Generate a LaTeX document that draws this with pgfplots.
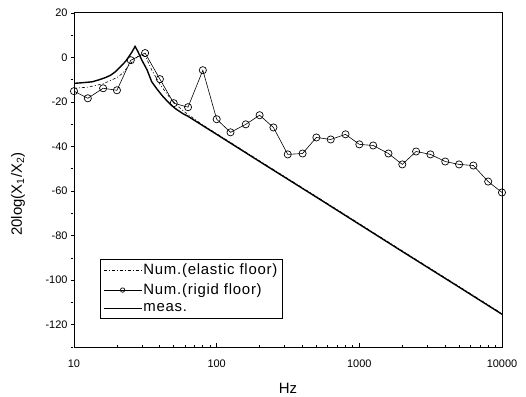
\documentclass[border=0pt]{standalone}
\usepackage{fontspec}
\setmainfont{Liberation Sans}
\newfontfamily\legfont[LetterSpace=5]{Liberation Sans}
\usepackage{pgfplots}
\pgfplotsset{compat=1.18}
\usetikzlibrary{calc}
\begin{document}
\begin{tikzpicture}
\begin{axis}[
  scale only axis, width=428bp, height=334bp,
  xmode=log, xmin=10, xmax=10000, ymin=-130, ymax=20,
  ytick={-120,-100,...,20}, minor ytick={-130,-110,...,10},
  xtick={10,100,1000,10000}, xticklabels={10,100,1000,10000},
  tick align=inside, xtick pos=bottom, ytick pos=left,
  major tick length=4bp, minor tick length=2.5bp,
  y tick style={xshift=-3.5bp},
  tick style={black, line width=0.8bp},
  tick label style={font=\fontsize{11}{13}\selectfont},
  yticklabel style={xshift=-3bp},
  xticklabel style={yshift=-9bp},
  /pgf/number format/assume math mode=true,
  xlabel={Hz}, ylabel={20log(X\textsubscript{1}/X\textsubscript{2})},
  label style={font=\fontsize{15}{17}\selectfont},
  xlabel style={at={(rel axis cs:0.5,0)}, anchor=center, yshift=-41bp},
  ylabel style={at={(rel axis cs:0,0.5)}, anchor=center, yshift=56bp, xshift=-14bp},
  axis line style={line width=1bp},
  legend style={at={(0.061,0.087)}, anchor=south west, draw=black,
    font=\legfont\fontsize{15}{17}\selectfont, row sep=4.5bp, inner sep=3bp,
    nodes={inner sep=1.5bp}},
  legend cell align=left,
  legend image code/.code={\draw[mark repeat=2,mark phase=2,#1] plot coordinates {(0bp,0bp) (19bp,0bp) (38bp,0bp)};},
]
\coordinate (SW) at (rel axis cs:0,0);
\coordinate (NE) at (rel axis cs:1,1);
\addplot[black, line width=0.6bp, dash pattern=on 3bp off 2bp on 1bp off 2bp] coordinates {
(10,-13.8) (12.5,-13.3) (16,-11.8) (20,-9) (22,-7) (25,-2.5) (28,0.5) (30,1.5) (32,0) (35,-5.5)
(40,-12) (45,-16.5) (50,-20) (56,-23) (63,-25.6) (80,-30.3) (100,-34.2) (200,-46.4)
(500,-62.4) (1000,-74.6) (2000,-86.8) (5000,-102.8) (10000,-115)
};
\addlegendentry{Num.(elastic floor)}
\addplot[black, line width=0.6bp, mark=o, mark size=3.6bp, mark options={fill=white, line width=0.7bp},
  legend image post style={mark size=2.2bp}] coordinates {
(10,-15.1) (12.5,-18.3) (16,-13.8) (20,-14.7) (25,-1.2) (31.5,2.0) (40,-9.7) (50,-20.5)
(63,-22.3) (80,-5.7) (100,-27.7) (125,-33.6) (160,-30.0) (200,-25.9) (250,-31.4)
(315,-43.5) (400,-43.1) (500,-35.9) (630,-36.8) (800,-34.5) (1000,-39.0) (1250,-39.5)
(1600,-43.1) (2000,-48.0) (2500,-42.2) (3150,-43.5) (4000,-46.7) (5000,-48.0)
(6300,-48.5) (8000,-55.7) (10000,-60.6)
};
\addlegendentry{Num.(rigid floor)}
\addplot[black, line width=1.4bp, legend image post style={line width=0.6bp}] coordinates {
(10,-11.6) (11.5,-11.3) (13.4,-10.9) (15,-10) (16.6,-9) (18,-8) (19.5,-6.4) (21.7,-3.4)
(23,-1.7) (24.2,0.3) (25.5,2.5) (26.8,5) (28,2.8) (29.8,-1) (32.5,-5.5) (35,-10.8)
(38,-14) (42,-17.5) (46,-20.2) (51,-22.8) (58,-25.2) (63,-26.4) (80,-30.6) (100,-34.5)
(200,-46.7) (500,-62.7) (1000,-74.9) (2000,-87.1) (5000,-103.1) (10000,-115.3)
};
\addlegendentry{meas.}
\end{axis}
\pgfresetboundingbox
\path ($(SW)+(-74bp,-50bp)$) rectangle ($(NE)+(24bp,13bp)$);
\end{tikzpicture}
\end{document}
